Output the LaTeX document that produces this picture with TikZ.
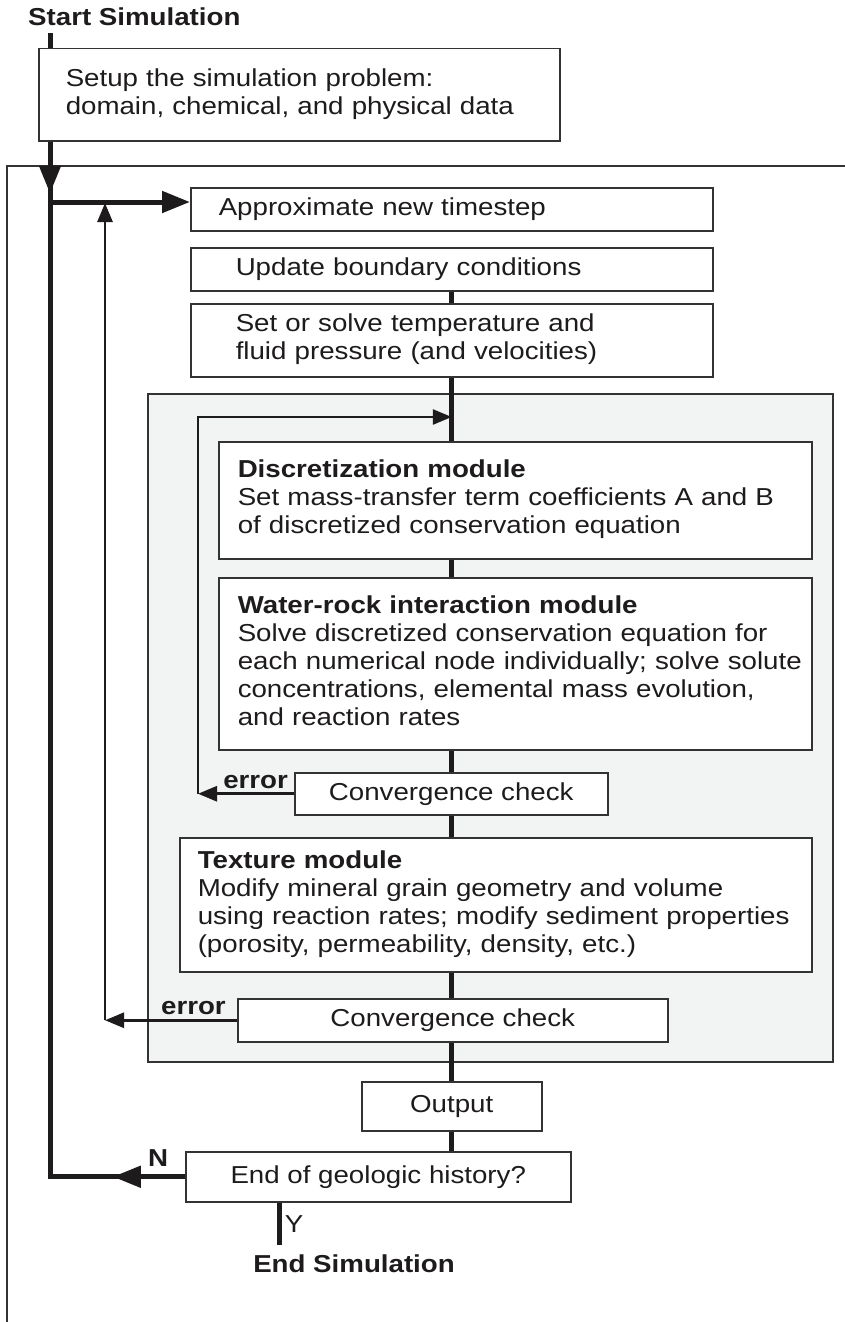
\documentclass[tikz,border=0pt]{standalone}
\usepackage{fontspec}
\setmainfont{Liberation Sans}[FakeStretch=1.13]
\usetikzlibrary{positioning,arrows.meta,decorations.markings}

\definecolor{inkc}{HTML}{1E1B1C}
\definecolor{edgec}{HTML}{333333}
\definecolor{panelc}{HTML}{F2F3F3}

\newcommand{\boxfont}{\fontsize{24.5}{28}\selectfont}
% keep each typed line on one line, even when it is a little long
\newcommand{\boxlines}[1]{\begin{tabular}{@{}l@{}}#1\end{tabular}}

\tikzset{
  box/.style={draw=edgec, fill=white, line width=1.5pt, anchor=north west, inner ysep=0pt, font=\boxfont, text=inkc},
  flow/.style={draw=inkc, line width=5pt},
  loopline/.style={draw=inkc, line width=2.8pt},
  bigtip/.tip={Triangle[length=28pt,width=21pt]},
  smalltip/.tip={Triangle[length=19pt,width=15pt]},
  tipat/.style={postaction={decorate}, decoration={markings, mark=at position #1 with {\arrow{bigtip}}}},
  lbl/.style={font=\boxfont\bfseries, text=inkc, inner sep=2pt}
}

\begin{document}
\begin{tikzpicture}[x=1pt, y=-1pt]
  \useasboundingbox (0,0) rectangle (845,1322);

  % Outer frame and grey module panel
  \draw[edgec, line width=2pt] (845,166) -- (7,166) -- (7,1322);
  \node[draw=edgec, fill=panelc, line width=2pt, anchor=north west, minimum width=685pt, minimum height=668pt, inner sep=0pt] (panel) at (147,393) {};

  % Steps
  \node[lbl, anchor=west, inner xsep=0pt, inner ysep=7pt] (start) at (28,17) {Start Simulation};
  \node[box, minimum width=521pt, minimum height=92pt, text width=467pt, inner xsep=27pt, align=left] (setup) at (38,48) {\boxlines{Setup the simulation problem:\\domain, chemical, and physical data}};
  \node[box, minimum width=522pt, minimum height=43pt, text width=466pt, inner xsep=28pt, align=left] (approx) at (190,187) {Approximate new timestep};
  \node[box, minimum width=522pt, minimum height=43pt, text width=432pt, inner xsep=45pt, align=left] (update) at (190,247) {Update boundary conditions};
  \node[box, minimum width=522pt, minimum height=73pt, text width=432pt, inner xsep=45pt, align=left] (setsolve) at (190,303) {\boxlines{Set or solve temperature and\\fluid pressure (and velocities)}};
  \node[box, minimum width=593pt, minimum height=117pt, text width=555pt, inner xsep=19pt, align=left] (disc) at (218,441) {\boxlines{\textbf{Discretization module}\\Set mass-transfer term coefficients A and B\\of discretized conservation equation}};
  \node[box, minimum width=593pt, minimum height=172pt, text width=555pt, inner xsep=19pt, align=left] (water) at (218,577) {\boxlines{\textbf{Water-rock interaction module}\\Solve discretized conservation equation for\\each numerical node individually; solve solute\\concentrations, elemental mass evolution,\\and reaction rates}};
  \node[box, minimum width=313pt, minimum height=42pt, align=center] (conv1) at (294,772) {Convergence check};
  \node[box, minimum width=632pt, minimum height=134pt, text width=596pt, inner xsep=18pt, align=left] (texture) at (179,837) {\boxlines{\textbf{Texture module}\\Modify mineral grain geometry and volume\\using reaction rates; modify sediment properties\\(porosity, permeability, density, etc.)}};
  \node[box, minimum width=430pt, minimum height=43pt, align=center] (conv2) at (237,998) {Convergence check};
  \node[box, minimum width=180pt, minimum height=49pt, align=center] (output) at (361,1081) {Output};
  \node[box, minimum width=385pt, minimum height=50pt, align=center] (endq) at (185,1151) {End of geologic history?};
  \node[lbl] (finish) at (354,1264) {End Simulation};

  % Loop corners
  \coordinate (jn) at (50,202);
  \coordinate (oloop) at (105,203);
  \coordinate (iloop) at (198,417);
  \coordinate (yend) at (279,1245);

  % Main flow
  \draw[flow] (start.south -| jn) -- (setup.north -| jn);
  \draw[flow, tipat=0.86] (setup.south -| jn) -- (jn);
  \draw[flow, -{bigtip}] (jn) -- (jn -| approx.west);
  \draw[flow] (update.south) -- (setsolve.north);
  \draw[flow] (setsolve.south) -- (disc.north -| setsolve.south);
  \draw[flow] (disc.south -| setsolve.south) -- (water.north -| setsolve.south);
  \draw[flow] (water.south -| setsolve.south) -- (conv1.north -| setsolve.south);
  \draw[flow] (conv1.south -| setsolve.south) -- (texture.north -| setsolve.south);
  \draw[flow] (texture.south -| setsolve.south) -- (conv2.north -| setsolve.south);
  \draw[flow] (conv2.south -| setsolve.south) -- (output.north -| setsolve.south);
  \draw[flow] (output.south) -- (endq.north -| output.south);

  % Time loop (N) and end (Y)
  \draw[flow, tipat=0.065] (endq.west) -- node[lbl, above=6pt, pos=0.2] (nlab) {N} (endq.west -| jn) -- (jn);
  \draw[flow] (endq.south -| yend) -- node[right, font=\boxfont, text=inkc] (ylab) {Y} (yend);

  % Error loops
  \draw[loopline, -{smalltip}] (conv2.west) -- node[lbl, above=2pt, pos=0.33] (err2) {error} (conv2.west -| oloop);
  \draw[loopline, -{smalltip}] (conv2.west -| oloop) -- (oloop);
  \draw[loopline, -{smalltip}] (conv1.west) -- node[lbl, above=2pt, pos=0.4] (err1) {error} (conv1.west -| iloop);
  \draw[loopline, -{smalltip}] (conv1.west -| iloop) -- (iloop) -- (iloop -| setsolve.south);
\end{tikzpicture}
\end{document}
